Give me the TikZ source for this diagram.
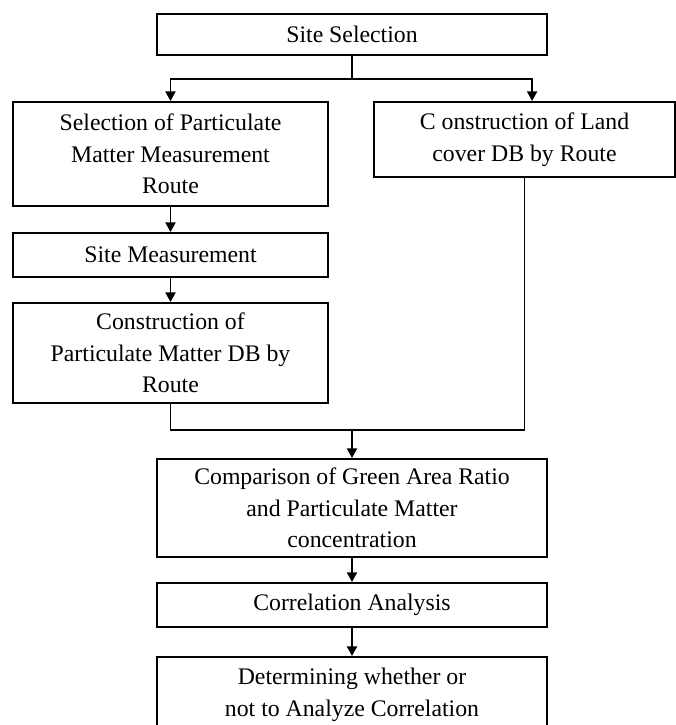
\documentclass[tikz,border=0pt]{standalone}
\usepackage{fontspec}
\setmainfont{Liberation Serif}
\usepackage{tikz}
\usetikzlibrary{arrows.meta}

\begin{document}
\begin{tikzpicture}[x=0.025cm,y=-0.025cm,>={Triangle[length=2.4mm,width=2.5mm]},line width=1.4pt,
  font=\fontsize{16.9pt}{22.5pt}\selectfont,
  box/.style={draw,line width=1.4pt,align=center,inner sep=2pt}]
\useasboundingbox (0,0) rectangle (676,725);
\clip (0,0) rectangle (676,725);
% boxes
\node[box,minimum width=9.75cm,minimum height=1.025cm] (site) at (352,34.5) {Site Selection};
\node[box,minimum width=7.875cm,minimum height=2.6cm] (route) at (170.5,154) {Selection of Particulate\\Matter Measurement\\Route};
\node[box,minimum width=7.525cm,minimum height=1.875cm] (land) at (524.5,139.5) {C onstruction of Land\\cover DB by Route};
\node[box,minimum width=7.875cm,minimum height=1.1cm] (meas) at (170.5,255) {Site Measurement};
\node[box,minimum width=7.875cm,minimum height=2.5cm] (pmdb) at (170.5,353) {Construction of\\Particulate Matter DB by\\Route};
\node[box,minimum width=9.75cm,minimum height=2.45cm] (comp) at (352,508) {Comparison of Green Area Ratio\\and Particulate Matter\\concentration};
\node[box,minimum width=9.75cm,minimum height=1.1cm] (corr) at (352,605) {Correlation Analysis};
\node[box,minimum width=9.75cm,minimum height=1.875cm] (decide) at (352,694.5) {Determining whether or\\not to Analyze Correlation};
% connectors
\coordinate (split) at (352,79);
\coordinate (merge) at (352,430);
\draw (site) -- (split);
\draw[->] (split) -| (route);
\draw[->] (split) -| ([xshift=1.9mm]land.north);
\draw[->] (route) -- (meas);
\draw[->] (meas) -- (pmdb);
\draw (pmdb.south) |- (merge);
\draw (land.south) |- (merge);
\draw[->] (merge) -- (comp);
\draw[->] (comp) -- (corr);
\draw[->] (corr) -- (decide);
\end{tikzpicture}
\end{document}
